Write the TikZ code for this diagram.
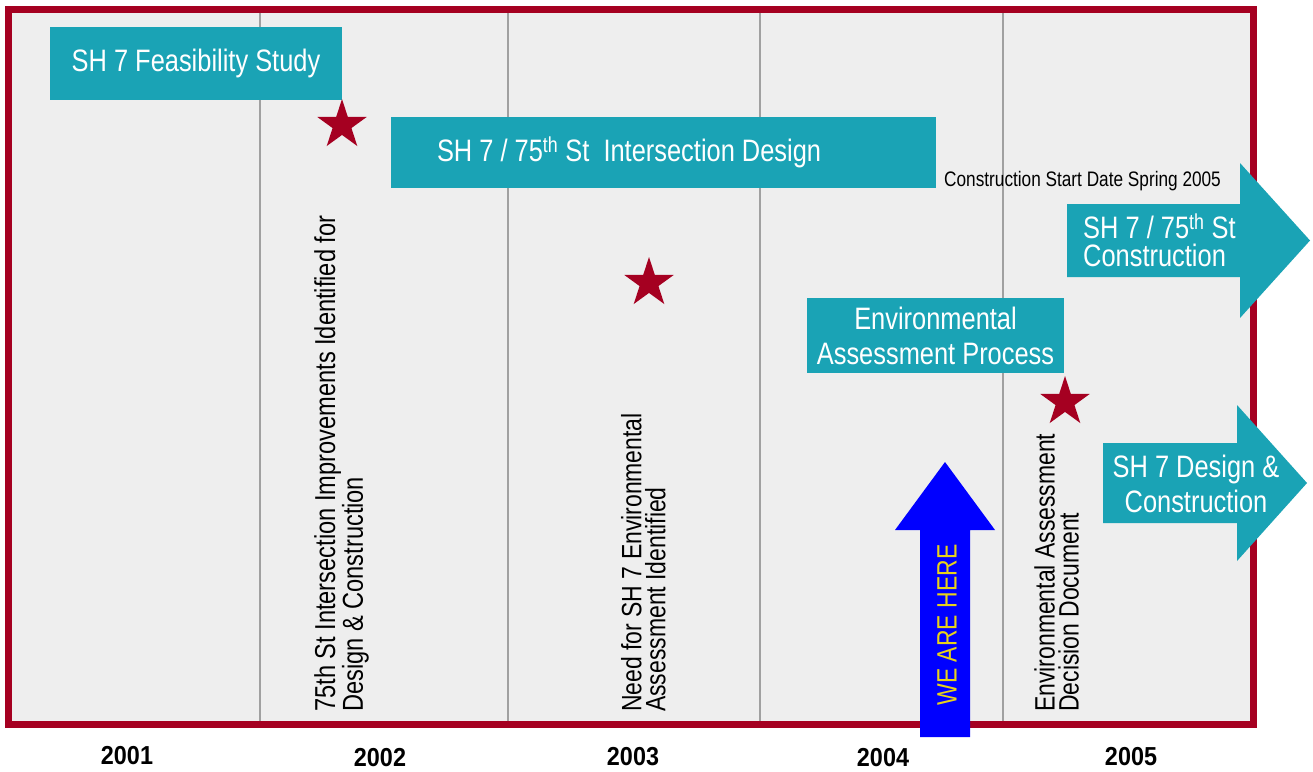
\documentclass[tikz,border=0pt]{standalone}
\usepackage{fontspec}
\setmainfont{Liberation Sans}[FakeStretch=0.82]
\newfontfamily\yearfont{Liberation Sans}[FakeStretch=0.9]
\usetikzlibrary{shapes.geometric}
\definecolor{tealbar}{HTML}{1AA3B5}
\definecolor{framered}{HTML}{A50021}
\definecolor{panelbg}{HTML}{EEEEEE}
\definecolor{gridgray}{HTML}{A0A0A0}
\definecolor{herebl}{HTML}{0000FF}
\definecolor{hereyl}{HTML}{E8D21A}
\newcommand\setfs[1]{\fontsize{#1}{#1}\selectfont}
\tikzset{
  bar/.style={fill=tealbar, inner sep=0pt, draw=none},
  bartext/.style={text=white, inner sep=0pt, font=\setfs{31}},
  starmark/.style={star, star points=5, star point ratio=2.618, minimum size=52pt, inner sep=0pt, fill=framered, draw=none},
  vtext/.style={rotate=90, anchor=north west, inner sep=0pt, align=left, font=\fontsize{28}{24}\selectfont},
  year/.style={font=\yearfont\bfseries\setfs{26}, inner sep=0pt},
  gridline/.style={draw=gridgray, line width=1.2pt},
}
\begin{document}
\begin{tikzpicture}[x=1pt, y=-1pt]
\useasboundingbox (0,0) rectangle (1313,771);
\fill[white] (0,0) rectangle (1313,771);
% panel
\fill[panelbg] (8.5,9.5) rectangle (1253.5,724.5);
\foreach \gx in {260,508,760,1003} {
  \draw[gridline] (\gx,10) -- (\gx,724);
}
\draw[framered, line width=7pt] (8.5,9.5) rectangle (1253.5,724.5);
% years
\node[year] (y2001) at (127,756) {2001};
\node[year] (y2002) at (380,758) {2002};
\node[year] (y2003) at (633,757) {2003};
\node[year] (y2004) at (883,758) {2004};
\node[year] (y2005) at (1131,757) {2005};
% feasibility study
\node[bar, bartext, minimum width=292pt, minimum height=73pt] (feas) at (196,63.5) {SH 7 Feasibility Study};
\node[starmark] (star1) at (342,125) {};
% intersection design
\node[bar, minimum width=545pt, minimum height=71pt] (design) at (663.5,152.5) {};
\node[bartext, anchor=west] (designtxt) at ([xshift=46pt]design.west) {SH 7 / 75\textsuperscript{th} St\ \ Intersection Design};
\node[anchor=west, inner sep=0pt, font=\setfs{21}] (startdate) at (944,181) {Construction Start Date Spring 2005};
% arrow 1
\fill[tealbar] (1067,204) -- (1240,204) -- (1240,163) -- (1310,240.5) -- (1240,318) -- (1240,277) -- (1067,277) -- cycle;
\node[text=white, inner sep=0pt, anchor=west, align=left, font=\fontsize{31}{28}\selectfont] (constr1) at (1083,240) {SH 7 / 75\textsuperscript{th} St\\Construction};
% star 2
\node[starmark] (star2) at (649,283) {};
% environmental assessment
\node[bar, text=white, align=center, font=\fontsize{31}{35}\selectfont, minimum width=257pt, minimum height=75pt] (envbox) at (935.5,335.5) {Environmental\\Assessment Process};
\node[starmark] (star3) at (1065,402) {};
% arrow 2
\fill[tealbar] (1103,443) -- (1237,443) -- (1237,405) -- (1307,483) -- (1237,561) -- (1237,523) -- (1103,523) -- cycle;
\node[text=white, inner sep=0pt, align=center, font=\fontsize{31}{35}\selectfont] (constr2) at (1196,484) {SH 7 Design \&\\Construction};
% we are here
\fill[herebl] (920,737) -- (920,530) -- (895,530) -- (945,462) -- (995,530) -- (970,530) -- (970,737) -- cycle;
\node[rotate=90, text=hereyl, inner sep=0pt, font=\setfs{28}] (here) at (947,625) {WE ARE HERE};
% vertical texts
\node[vtext, font=\fontsize{28.8}{24.5}\selectfont] (t2002) at (314,712) {75th St Intersection Improvements Identified for\\Design \& Construction};
\node[vtext] (t2003) at (621,712) {Need for SH 7 Environmental\\Assessment Identified};
\node[vtext] (t2005) at (1034,712) {Environmental Assessment\\Decision Document};
\end{tikzpicture}
\end{document}
